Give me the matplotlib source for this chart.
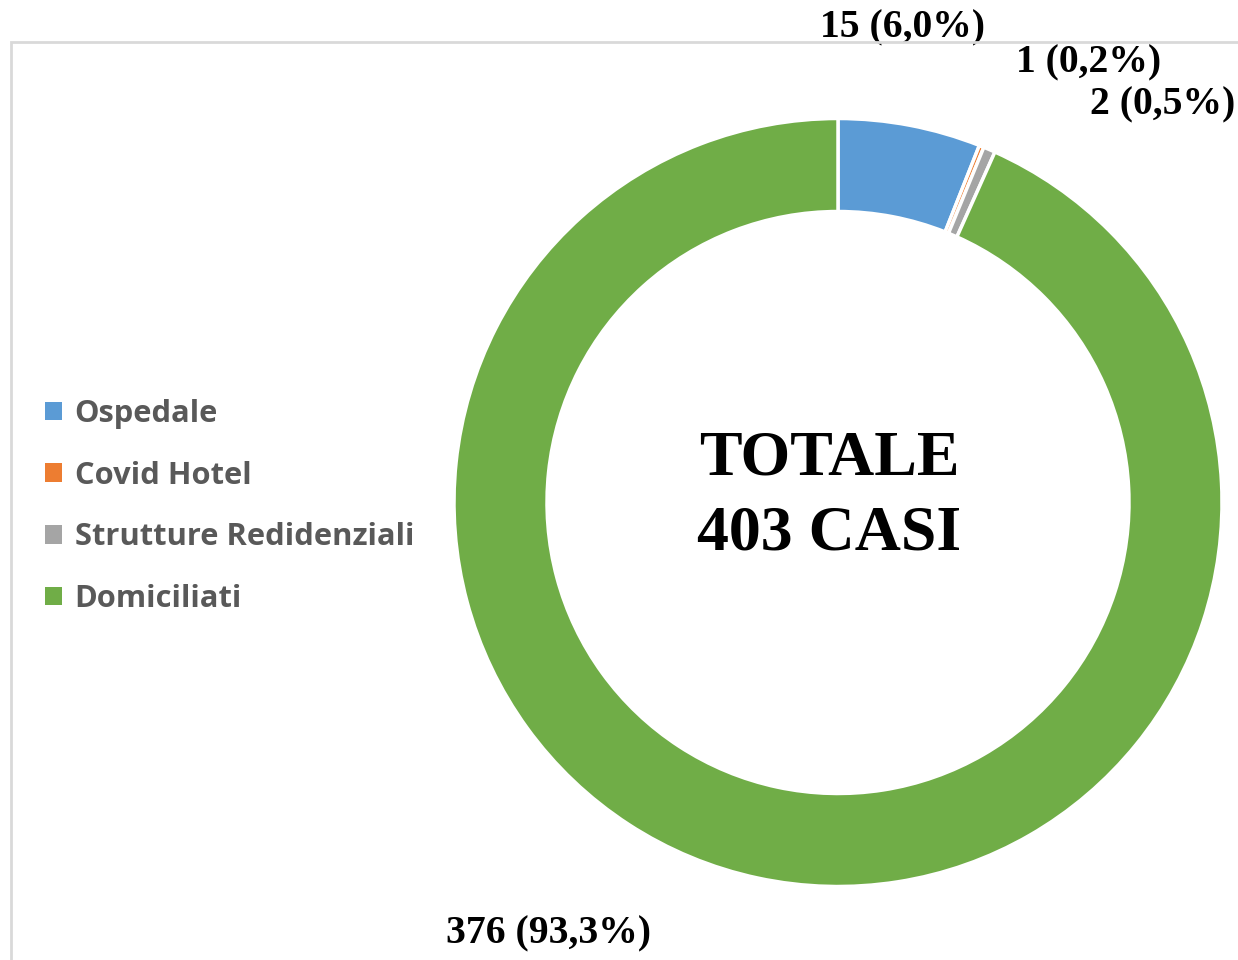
import matplotlib
matplotlib.use("Agg")
import matplotlib.pyplot as plt
from matplotlib.patches import Rectangle

categories = ["Ospedale", "Covid Hotel", "Strutture Redidenziali", "Domiciliati"]
counts = [15, 1, 2, 376]
percents = [6.0, 0.2, 0.5, 93.3]
colors = ["#5B9BD5", "#ED7D31", "#A5A5A5", "#70AD47"]
total_label = "TOTALE\n403 CASI"

W, H = 1238, 960
fig = plt.figure(figsize=(W / 100, H / 100), dpi=100)
ax = fig.add_axes([0, 0, 1, 1])

# chart frame
fig.patches.append(Rectangle((11 / W, -0.1), 1.2, (H - 42) / H + 0.1,
                             transform=fig.transFigure, fill=False,
                             edgecolor="#D9D9D9", linewidth=2))

cx, cy = 838, H - 502.5
wedges, _ = ax.pie(percents, colors=colors, startangle=90, counterclock=False,
                   radius=384, center=(cx, cy), frame=True,
                   wedgeprops=dict(width=93, edgecolor="white", linewidth=2.5))
ax.set_xlim(0, W)
ax.set_ylim(0, H)
ax.set_aspect("equal")
ax.axis("off")

label_pos = [(902, 28), (1089, 63), (1163, 105), (548, 934)]
for c, p, (x, y) in zip(counts, percents, label_pos):
    txt = f"{c} ({p:.1f}%)".replace(".", ",")
    ax.text(x, H - y, txt, ha="center", va="center", fontsize=28.5,
            fontweight="bold", family="Liberation Serif", color="black")

ax.text(829, H - 497, total_label, ha="center", va="center", fontsize=46,
        fontweight="bold", family="Liberation Serif", color="black",
        linespacing=1.38)

leg = ax.legend(wedges, categories, loc="upper left", bbox_to_anchor=(17 / W, 1 - 371 / H),
                frameon=False, handlelength=0.55, handleheight=0.55,
                handletextpad=0.42, labelspacing=1.03,
                prop=dict(family="Open Sans", weight="bold", size=22.2))
for t in leg.get_texts():
    t.set_color("#595959")
for h in leg.legend_handles:
    h.set_edgecolor("none")

fig.savefig("out.png", dpi=100)
